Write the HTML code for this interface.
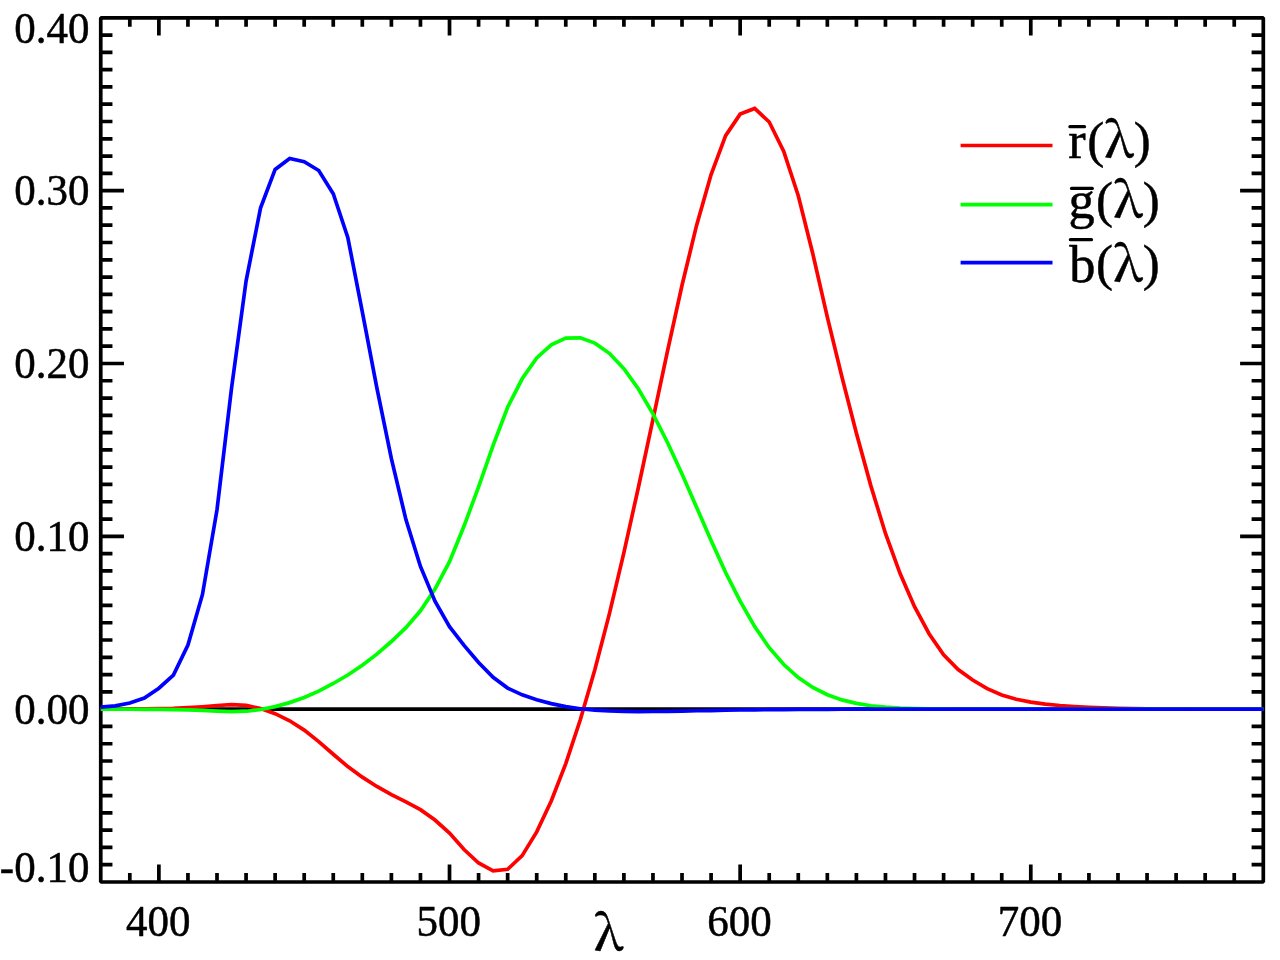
<!DOCTYPE html>
<html lang="en"><head><meta charset="utf-8"><title>CIE 1931 RGB colour matching functions</title>
<style>html,body{margin:0;padding:0;background:#fff;}body{width:1280px;height:960px;overflow:hidden;}svg{display:block;}text{font-family:"Liberation Serif","DejaVu Serif",serif;fill:#000;stroke:#000;stroke-width:0.5px;stroke-linejoin:round;}</style></head><body>
<svg width="1280" height="960" viewBox="0 0 1280 960">
<rect x="0" y="0" width="1280" height="960" fill="#fff"/>
<rect x="100.75" y="17.8" width="1162.55" height="864.20" fill="none" stroke="#000" stroke-width="3.7" stroke-linejoin="bevel"/>
<path d="M129.81,882.00v-8.90M129.81,17.80v8.90M158.88,882.00v-17.60M158.88,17.80v17.60M187.94,882.00v-8.90M187.94,17.80v8.90M217.00,882.00v-8.90M217.00,17.80v8.90M246.07,882.00v-8.90M246.07,17.80v8.90M275.13,882.00v-8.90M275.13,17.80v8.90M304.20,882.00v-8.90M304.20,17.80v8.90M333.26,882.00v-8.90M333.26,17.80v8.90M362.32,882.00v-8.90M362.32,17.80v8.90M391.39,882.00v-8.90M391.39,17.80v8.90M420.45,882.00v-8.90M420.45,17.80v8.90M449.51,882.00v-17.60M449.51,17.80v17.60M478.58,882.00v-8.90M478.58,17.80v8.90M507.64,882.00v-8.90M507.64,17.80v8.90M536.71,882.00v-8.90M536.71,17.80v8.90M565.77,882.00v-8.90M565.77,17.80v8.90M594.83,882.00v-8.90M594.83,17.80v8.90M623.90,882.00v-8.90M623.90,17.80v8.90M652.96,882.00v-8.90M652.96,17.80v8.90M682.02,882.00v-8.90M682.02,17.80v8.90M711.09,882.00v-8.90M711.09,17.80v8.90M740.15,882.00v-17.60M740.15,17.80v17.60M769.22,882.00v-8.90M769.22,17.80v8.90M798.28,882.00v-8.90M798.28,17.80v8.90M827.34,882.00v-8.90M827.34,17.80v8.90M856.41,882.00v-8.90M856.41,17.80v8.90M885.47,882.00v-8.90M885.47,17.80v8.90M914.53,882.00v-8.90M914.53,17.80v8.90M943.60,882.00v-8.90M943.60,17.80v8.90M972.66,882.00v-8.90M972.66,17.80v8.90M1001.73,882.00v-8.90M1001.73,17.80v8.90M1030.79,882.00v-17.60M1030.79,17.80v17.60M1059.85,882.00v-8.90M1059.85,17.80v8.90M1088.92,882.00v-8.90M1088.92,17.80v8.90M1117.98,882.00v-8.90M1117.98,17.80v8.90M1147.05,882.00v-8.90M1147.05,17.80v8.90M1176.11,882.00v-8.90M1176.11,17.80v8.90M1205.17,882.00v-8.90M1205.17,17.80v8.90M1234.24,882.00v-8.90M1234.24,17.80v8.90M100.75,864.72h11.70M1263.30,864.72h-11.70M100.75,847.43h11.70M1263.30,847.43h-11.70M100.75,830.15h11.70M1263.30,830.15h-11.70M100.75,812.86h11.70M1263.30,812.86h-11.70M100.75,795.58h11.70M1263.30,795.58h-11.70M100.75,778.30h11.70M1263.30,778.30h-11.70M100.75,761.01h11.70M1263.30,761.01h-11.70M100.75,743.73h11.70M1263.30,743.73h-11.70M100.75,726.44h11.70M1263.30,726.44h-11.70M100.75,709.16h23.20M1263.30,709.16h-23.20M100.75,691.88h11.70M1263.30,691.88h-11.70M100.75,674.59h11.70M1263.30,674.59h-11.70M100.75,657.31h11.70M1263.30,657.31h-11.70M100.75,640.02h11.70M1263.30,640.02h-11.70M100.75,622.74h11.70M1263.30,622.74h-11.70M100.75,605.46h11.70M1263.30,605.46h-11.70M100.75,588.17h11.70M1263.30,588.17h-11.70M100.75,570.89h11.70M1263.30,570.89h-11.70M100.75,553.60h11.70M1263.30,553.60h-11.70M100.75,536.32h23.20M1263.30,536.32h-23.20M100.75,519.04h11.70M1263.30,519.04h-11.70M100.75,501.75h11.70M1263.30,501.75h-11.70M100.75,484.47h11.70M1263.30,484.47h-11.70M100.75,467.18h11.70M1263.30,467.18h-11.70M100.75,449.90h11.70M1263.30,449.90h-11.70M100.75,432.62h11.70M1263.30,432.62h-11.70M100.75,415.33h11.70M1263.30,415.33h-11.70M100.75,398.05h11.70M1263.30,398.05h-11.70M100.75,380.76h11.70M1263.30,380.76h-11.70M100.75,363.48h23.20M1263.30,363.48h-23.20M100.75,346.20h11.70M1263.30,346.20h-11.70M100.75,328.91h11.70M1263.30,328.91h-11.70M100.75,311.63h11.70M1263.30,311.63h-11.70M100.75,294.34h11.70M1263.30,294.34h-11.70M100.75,277.06h11.70M1263.30,277.06h-11.70M100.75,259.78h11.70M1263.30,259.78h-11.70M100.75,242.49h11.70M1263.30,242.49h-11.70M100.75,225.21h11.70M1263.30,225.21h-11.70M100.75,207.92h11.70M1263.30,207.92h-11.70M100.75,190.64h23.20M1263.30,190.64h-23.20M100.75,173.36h11.70M1263.30,173.36h-11.70M100.75,156.07h11.70M1263.30,156.07h-11.70M100.75,138.79h11.70M1263.30,138.79h-11.70M100.75,121.50h11.70M1263.30,121.50h-11.70M100.75,104.22h11.70M1263.30,104.22h-11.70M100.75,86.94h11.70M1263.30,86.94h-11.70M100.75,69.65h11.70M1263.30,69.65h-11.70M100.75,52.37h11.70M1263.30,52.37h-11.70M100.75,35.08h11.70M1263.30,35.08h-11.70" fill="none" stroke="#000" stroke-width="3.7"/>
<line x1="100.75" y1="709.16" x2="1263.3" y2="709.16" stroke="#000" stroke-width="3.7"/>
<polyline points="100.75,709.11 115.28,709.07 129.81,708.99 144.35,708.87 158.88,708.64 173.41,708.35 187.94,707.71 202.47,706.76 217.00,705.51 231.54,704.56 246.07,705.39 260.60,708.54 275.13,713.67 289.66,720.79 304.20,730.13 318.73,741.55 333.26,754.24 347.79,766.61 362.32,777.14 376.86,786.44 391.39,794.53 405.92,801.87 420.45,809.65 434.98,820.02 449.51,833.14 464.05,849.51 478.58,863.00 493.11,870.87 507.64,869.28 522.17,855.61 536.71,831.89 551.24,801.04 565.77,763.64 580.30,719.76 594.83,669.77 609.37,613.86 623.90,552.57 638.43,487.23 652.96,419.34 667.49,351.12 682.02,285.25 696.56,225.40 711.09,174.60 725.62,135.61 740.15,114.09 754.68,108.44 769.22,122.01 783.75,151.49 798.28,195.69 812.81,253.76 827.34,317.21 841.88,376.74 856.41,433.17 870.94,486.11 885.47,533.43 900.00,573.36 914.53,606.63 929.07,633.70 943.60,654.73 958.13,669.51 972.66,680.00 987.19,688.64 1001.73,695.00 1016.26,699.27 1030.79,702.07 1045.32,704.13 1059.85,705.53 1074.39,706.60 1088.92,707.35 1103.45,707.88 1117.98,708.26 1132.51,708.54 1147.05,708.73 1161.58,708.87 1176.11,708.95 1190.64,709.02 1205.17,709.06 1219.70,709.09 1234.24,709.11 1248.77,709.14 1263.30,709.16" fill="none" stroke="#ff0000" stroke-width="3.7" stroke-linejoin="miter" stroke-linecap="butt"/>
<polyline points="100.75,709.18 115.28,709.19 129.81,709.23 144.35,709.28 158.88,709.40 173.41,709.54 187.94,709.87 202.47,710.37 217.00,711.06 231.54,711.63 246.07,711.22 260.60,709.52 275.13,706.58 289.66,702.61 304.20,697.44 318.73,691.08 333.26,683.49 347.79,674.99 362.32,665.29 376.86,654.15 391.39,641.51 405.92,627.70 420.45,610.83 434.98,589.07 449.51,561.62 464.05,526.07 478.58,486.89 493.11,445.37 507.64,407.24 522.17,378.81 536.71,358.00 551.24,344.76 565.77,338.14 580.30,337.78 594.83,343.12 609.37,353.32 623.90,368.63 638.43,389.03 652.96,413.83 667.49,442.49 682.02,473.92 696.56,507.18 711.09,540.57 725.62,572.46 740.15,601.20 754.68,626.61 769.22,647.68 783.75,664.52 798.28,677.56 812.81,687.50 827.34,694.76 841.88,699.88 856.41,703.39 870.94,705.72 885.47,707.16 900.00,708.02 914.53,708.52 929.07,708.80 943.60,708.97 958.13,709.06 972.66,709.11 987.19,709.14 1001.73,709.16 1016.26,709.16 1030.79,709.16 1045.32,709.16 1059.85,709.16 1074.39,709.16 1088.92,709.16 1103.45,709.16 1117.98,709.16 1132.51,709.16 1147.05,709.16 1161.58,709.16 1176.11,709.16 1190.64,709.16 1205.17,709.16 1219.70,709.16 1234.24,709.16 1248.77,709.16 1263.30,709.16" fill="none" stroke="#00ff00" stroke-width="3.7" stroke-linejoin="miter" stroke-linecap="butt"/>
<polyline points="100.75,707.14 115.28,705.89 129.81,702.96 144.35,697.98 158.88,688.18 173.41,675.13 187.94,645.09 202.47,594.45 217.00,509.69 231.54,388.11 246.07,281.05 260.60,207.72 275.13,169.42 289.66,158.49 304.20,161.78 318.73,170.49 333.26,193.73 347.79,237.39 362.32,311.78 376.86,387.82 391.39,458.65 405.92,519.59 420.45,566.45 434.98,601.20 449.51,626.61 464.05,645.42 478.58,662.53 493.11,677.32 507.64,688.06 522.17,694.81 536.71,699.67 551.24,703.63 565.77,706.64 580.30,708.76 594.83,710.16 609.37,710.97 623.90,711.41 638.43,711.55 652.96,711.49 667.49,711.29 682.02,711.03 696.56,710.77 711.09,710.53 725.62,710.25 740.15,710.01 754.68,709.82 769.22,709.68 783.75,709.54 798.28,709.42 812.81,709.35 827.34,709.30 841.88,709.25 856.41,709.21 870.94,709.19 885.47,709.18 900.00,709.18 914.53,709.16 929.07,709.16 943.60,709.16 958.13,709.16 972.66,709.16 987.19,709.16 1001.73,709.16 1016.26,709.16 1030.79,709.16 1045.32,709.16 1059.85,709.16 1074.39,709.16 1088.92,709.16 1103.45,709.16 1117.98,709.16 1132.51,709.16 1147.05,709.16 1161.58,709.16 1176.11,709.16 1190.64,709.16 1205.17,709.16 1219.70,709.16 1234.24,709.16 1248.77,709.16 1263.30,709.16" fill="none" stroke="#0000ff" stroke-width="3.7" stroke-linejoin="miter" stroke-linecap="butt"/>
<text transform="translate(89.4,43.00) scale(1,1.025)" font-size="43.0" text-anchor="end">0.40</text>
<text transform="translate(89.4,205.34) scale(1,1.025)" font-size="43.0" text-anchor="end">0.30</text>
<text transform="translate(89.4,378.18) scale(1,1.025)" font-size="43.0" text-anchor="end">0.20</text>
<text transform="translate(89.4,551.02) scale(1,1.025)" font-size="43.0" text-anchor="end">0.10</text>
<text transform="translate(89.4,723.86) scale(1,1.025)" font-size="43.0" text-anchor="end">0.00</text>
<text transform="translate(89.4,882.20) scale(1,1.025)" font-size="43.0" text-anchor="end">-0.10</text>
<text transform="translate(158.18,935.85) scale(1,1.025)" font-size="43.0" text-anchor="middle">400</text>
<text transform="translate(448.81,935.85) scale(1,1.025)" font-size="43.0" text-anchor="middle">500</text>
<text transform="translate(739.45,935.85) scale(1,1.025)" font-size="43.0" text-anchor="middle">600</text>
<text transform="translate(1030.09,935.85) scale(1,1.025)" font-size="43.0" text-anchor="middle">700</text>
<text x="594.0" y="949.9" font-size="49.0" font-weight="500" style="font-family:'Noto Serif CJK SC','Liberation Serif',serif">λ</text>
<line x1="960.6" y1="145.5" x2="1052.5" y2="145.5" stroke="#ff0000" stroke-width="3.7"/>
<text font-size="52.3"><tspan x="1068.2" y="157.8">r</tspan><tspan x="1087.15" y="156.70" font-size="51">(</tspan><tspan x="1104.60" y="157.30" font-size="49.0" font-weight="500" style="font-family:'Noto Serif CJK SC','Liberation Serif',serif">λ</tspan><tspan x="1133.70" y="156.70" font-size="51">)</tspan></text>
<line x1="1069.95" y1="126.7" x2="1084.45" y2="126.7" stroke="#000" stroke-width="3.3" stroke-linecap="round"/>
<line x1="960.6" y1="204.6" x2="1052.5" y2="204.6" stroke="#00ff00" stroke-width="3.7"/>
<text font-size="52.3"><tspan x="1068.4" y="217.85">g</tspan><tspan x="1096.10" y="216.50" font-size="51">(</tspan><tspan x="1113.55" y="217.10" font-size="49.0" font-weight="500" style="font-family:'Noto Serif CJK SC','Liberation Serif',serif">λ</tspan><tspan x="1142.65" y="216.50" font-size="51">)</tspan></text>
<line x1="1071.55" y1="188.4" x2="1092.25" y2="188.4" stroke="#000" stroke-width="3.3" stroke-linecap="round"/>
<line x1="960.6" y1="262.7" x2="1052.5" y2="262.7" stroke="#0000ff" stroke-width="3.7"/>
<text font-size="52.3"><tspan x="1069.35" y="281.6">b</tspan><tspan x="1096.10" y="280.30" font-size="51">(</tspan><tspan x="1113.55" y="280.90" font-size="49.0" font-weight="500" style="font-family:'Noto Serif CJK SC','Liberation Serif',serif">λ</tspan><tspan x="1142.65" y="280.30" font-size="51">)</tspan></text>
<line x1="1070.40" y1="239.7" x2="1091.45" y2="239.7" stroke="#000" stroke-width="3.3" stroke-linecap="round"/>
</svg></body></html>
